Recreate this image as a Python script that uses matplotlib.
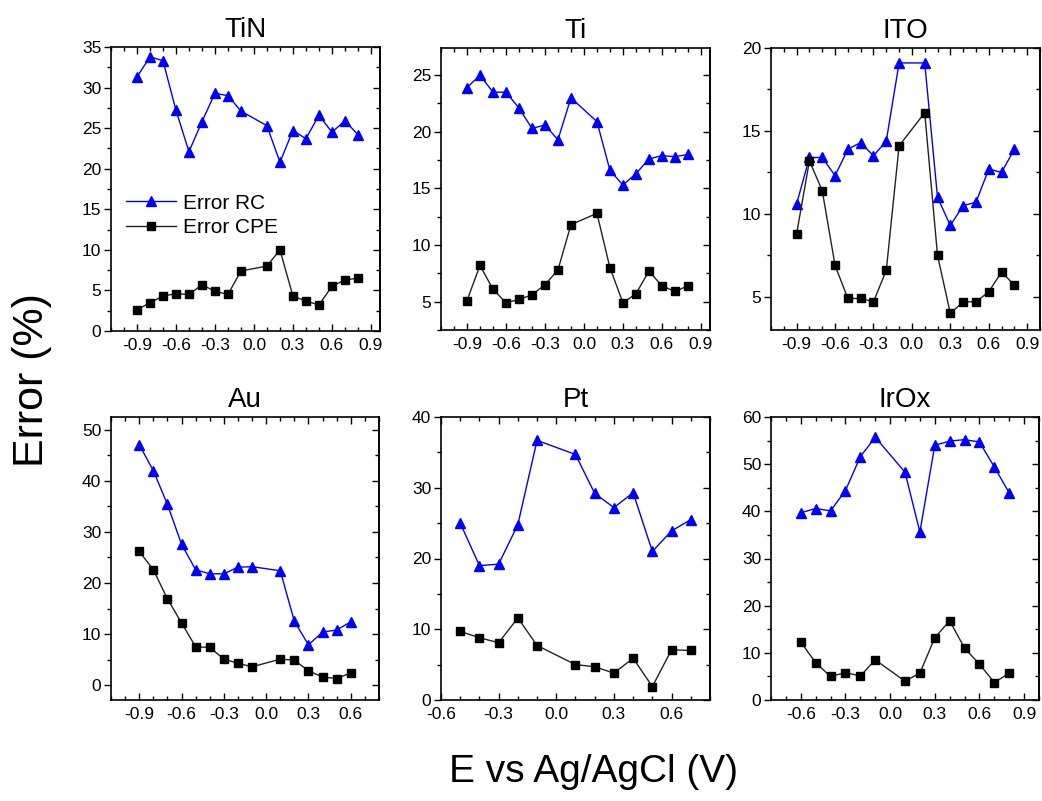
import numpy as np
import matplotlib
matplotlib.use("Agg")
import matplotlib.pyplot as plt
from matplotlib.ticker import MultipleLocator, FormatStrFormatter

plt.rcParams["font.family"] = ["Liberation Sans", "DejaVu Sans"]
plt.rcParams["axes.unicode_minus"] = False

# potentials (V vs Ag/AgCl)
x_full = [-0.9, -0.8, -0.7, -0.6, -0.5, -0.4, -0.3, -0.2, -0.1, 0.1, 0.2, 0.3, 0.4, 0.5, 0.6, 0.7, 0.8]
x_au = [-0.9, -0.8, -0.7, -0.6, -0.5, -0.4, -0.3, -0.2, -0.1, 0.1, 0.2, 0.3, 0.4, 0.5, 0.6]
x_pt = [-0.5, -0.4, -0.3, -0.2, -0.1, 0.1, 0.2, 0.3, 0.4, 0.5, 0.6, 0.7]
x_irox = [-0.6, -0.5, -0.4, -0.3, -0.2, -0.1, 0.1, 0.2, 0.3, 0.4, 0.5, 0.6, 0.7, 0.8]

tin_rc = [31.3, 33.8, 33.3, 27.2, 22.1, 25.8, 29.3, 29.0, 27.1, 25.3, 20.8, 24.7, 23.7, 26.6, 24.5, 25.9, 24.2]
tin_cpe = [2.6, 3.5, 4.3, 4.6, 4.5, 5.7, 4.9, 4.5, 7.4, 8.0, 10.0, 4.3, 3.7, 3.2, 5.5, 6.3, 6.5]
ti_rc = [23.9, 25.0, 23.5, 23.5, 22.1, 20.3, 20.6, 19.3, 23.0, 20.9, 16.6, 15.3, 16.3, 17.6, 17.9, 17.8, 18.0]
ti_cpe = [5.1, 8.2, 6.1, 4.9, 5.2, 5.6, 6.5, 7.8, 11.8, 12.8, 8.0, 4.9, 5.7, 7.7, 6.4, 5.9, 6.4]
ito_rc = [10.6, 13.4, 13.4, 12.3, 13.9, 14.3, 13.5, 14.4, 19.1, 19.1, 11.0, 9.3, 10.5, 10.7, 12.7, 12.5, 13.9]
ito_cpe = [8.8, 13.2, 11.4, 6.9, 4.9, 4.9, 4.7, 6.6, 14.1, 16.1, 7.5, 4.0, 4.7, 4.7, 5.3, 6.5, 5.7]
au_rc = [47.1, 42.0, 35.4, 27.6, 22.6, 21.8, 21.8, 23.1, 23.2, 22.4, 12.5, 7.9, 10.4, 10.8, 12.4]
au_cpe = [26.2, 22.6, 16.9, 12.2, 7.5, 7.4, 5.1, 4.3, 3.6, 5.1, 4.9, 2.8, 1.6, 1.3, 2.4]
pt_rc = [25.0, 19.0, 19.2, 24.8, 36.7, 34.7, 29.2, 27.2, 29.3, 21.0, 23.9, 25.5]
pt_cpe = [9.7, 8.8, 8.1, 11.6, 7.7, 5.0, 4.7, 3.8, 5.9, 1.9, 7.1, 7.0]
irox_rc = [39.7, 40.6, 40.1, 44.4, 51.6, 55.7, 48.3, 35.6, 54.0, 54.9, 55.2, 54.7, 49.4, 43.9]
irox_cpe = [12.3, 7.9, 5.0, 5.8, 5.1, 8.5, 4.0, 5.7, 13.2, 16.8, 11.0, 7.6, 3.7, 5.7]

W, H = 1042, 801
fig = plt.figure(figsize=(W / 100, H / 100), dpi=100)


def make_ax(left, top, right, bottom):
    return fig.add_axes([left / W, 1 - bottom / H, (right - left) / W, (bottom - top) / H])


# (title, x, rc, cpe, xlim, ylim, ymajor, yminor, axes box in px)
panels = [
    ("TiN", x_full, tin_rc, tin_cpe, (-1.1, 0.97), (0, 35), 5, 2.5, (111, 47, 380, 331)),
    ("Ti", x_full, ti_rc, ti_cpe, (-1.1, 0.97), (2.5, 27.4), 5, 2.5, (441, 48, 710, 330)),
    ("ITO", x_full, ito_rc, ito_cpe, (-1.1, 1.0), (3.0, 20), 5, 2.5, (771, 48, 1040, 330)),
    ("Au", x_au, au_rc, au_cpe, (-1.1, 0.8), (-2.9, 52.5), 10, 5, (111, 417, 379, 700)),
    ("Pt", x_pt, pt_rc, pt_cpe, (-0.6, 0.8), (0, 40), 10, 5, (441, 417, 710, 700)),
    ("IrOx", x_irox, irox_rc, irox_cpe, (-0.8, 1.0), (0, 60), 10, 5, (771, 417, 1039, 700)),
]

for title, x, rc, cpe, xlim, ylim, ymaj, ymin, box in panels:
    ax = make_ax(*box)
    ax.plot(x, rc, color="#0000ff", lw=1.0, marker="^", ms=7.5, mfc="#0000ff", mec="#0000ff",
            label="Error RC")
    ax.plot(x, cpe, color="#222222", lw=1.0, marker="s", ms=5.5, mfc="black", mec="black",
            label="Error CPE")
    ax.set_xlim(*xlim)
    ax.set_ylim(*ylim)
    ax.xaxis.set_major_locator(MultipleLocator(0.3))
    ax.xaxis.set_minor_locator(MultipleLocator(0.1))
    ax.xaxis.set_major_formatter(FormatStrFormatter("%.1f"))
    ax.yaxis.set_major_locator(MultipleLocator(ymaj))
    ax.yaxis.set_minor_locator(MultipleLocator(ymin))
    ax.tick_params(axis="both", which="both", labelsize=12.5, top=True, right=True, direction="in")
    ax.tick_params(axis="y", which="both", direction="out", right=False)
    ax.tick_params(which="major", length=5, width=1)
    ax.tick_params(which="minor", length=3, width=1)
    ax.tick_params(axis="x", pad=5)
    ax.tick_params(axis="y", pad=2)
    # mirrored inward ticks on the right
    ax2 = ax.secondary_yaxis("right")
    ax2.yaxis.set_major_locator(MultipleLocator(ymaj))
    ax2.yaxis.set_minor_locator(MultipleLocator(ymin))
    ax2.tick_params(which="both", direction="in", labelright=False, width=1)
    ax2.tick_params(which="major", length=5)
    ax2.tick_params(which="minor", length=3)
    for s in ax.spines.values():
        s.set_linewidth(1.2)
    ax2.spines["right"].set_linewidth(1.2)
    ax.set_title(title, fontsize=20, pad=7)
    if title == "TiN":
        ax.legend(loc="upper left", bbox_to_anchor=(0.0, 0.535), frameon=False, fontsize=15,
                  handlelength=2.4, handletextpad=0.35, labelspacing=0.25, borderaxespad=0.3)

fig.text(0.031, 0.525, "Error (%)", rotation=90, fontsize=31, ha="center", va="center")
fig.text(0.570, 0.036, "E vs Ag/AgCl (V)", fontsize=28, ha="center", va="center")

fig.savefig("out.png", dpi=100)
